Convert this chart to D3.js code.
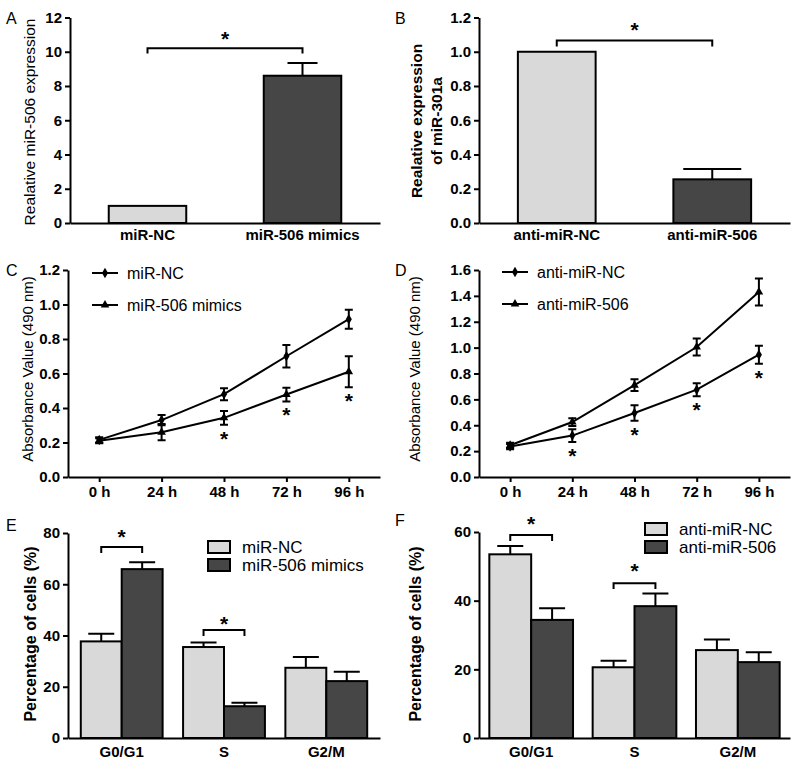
<!DOCTYPE html>
<html><head><meta charset="utf-8">
<script src="https://cdn.jsdelivr.net/npm/d3@7"></script>
<style>
html,body{margin:0;padding:0;background:#fff;}
svg{display:block;font-family:"Liberation Sans",Arial,sans-serif;}
</style></head>
<body>
<svg id="chart" width="800" height="769"></svg>
<script>
// ---------------- DATA ----------------
const catsA = ["miR-NC", "miR-506 mimics"];
const valsA = [1.0, 8.6];
const errsA = [0, 0.75];
const ticksA = [0, 2, 4, 6, 8, 10, 12];

const catsB = ["anti-miR-NC", "anti-miR-506"];
const valsB = [1.0, 0.255];
const errsB = [0, 0.06];
const ticksB = [0, 0.2, 0.4, 0.6, 0.8, 1.0, 1.2];

const timeLabels = ["0 h", "24 h", "48 h", "72 h", "96 h"];
const seriesC = ["miR-NC", "miR-506 mimics"];
const valsC_nc = [0.215, 0.33, 0.48, 0.70, 0.915];
const errsC_nc = [0.015, 0.03, 0.035, 0.065, 0.055];
const valsC_mim = [0.21, 0.26, 0.343, 0.478, 0.61];
const errsC_mim = [0.015, 0.047, 0.04, 0.04, 0.09];
const starsC = [2, 3, 4];
const ticksC = [0, 0.2, 0.4, 0.6, 0.8, 1.0, 1.2];

const seriesD = ["anti-miR-NC", "anti-miR-506"];
const valsD_nc = [0.235, 0.32, 0.495, 0.675, 0.945];
const errsD_nc = [0.02, 0.05, 0.06, 0.05, 0.07];
const valsD_506 = [0.245, 0.425, 0.71, 1.005, 1.43];
const errsD_506 = [0.02, 0.03, 0.045, 0.065, 0.105];
const starsD = [1, 2, 3, 4];
const ticksD = [0, 0.2, 0.4, 0.6, 0.8, 1.0, 1.2, 1.4, 1.6];

const phases = ["G0/G1", "S", "G2/M"];
const seriesE = ["miR-NC", "miR-506 mimics"];
const valsE_nc = [37.7, 35.5, 27.4];
const errsE_nc = [3.0, 1.8, 4.2];
const valsE_mim = [65.9, 12.4, 22.2];
const errsE_mim = [2.7, 1.4, 3.7];
const ticksE = [0, 20, 40, 60, 80];

const seriesF = ["anti-miR-NC", "anti-miR-506"];
const valsF_nc = [53.5, 20.6, 25.6];
const errsF_nc = [2.4, 1.9, 3.1];
const valsF_506 = [34.4, 38.4, 22.1];
const errsF_506 = [3.4, 3.7, 2.9];
const ticksF = [0, 20, 40, 60];

// significance brackets in data units: [level, tickEnd, starLevel]
const sigA = [10.2, 9.9, 11.0];
const sigB = [1.065, 1.03, 1.15];
const sigE = [{g: 0, lv: 74.5, end: 72.2, star: 80}, {g: 1, lv: 42.1, end: 39.8, star: 46}];
const sigF = [{g: 0, lv: 59.1, end: 57.4, star: 63.5}, {g: 1, lv: 45.1, end: 43.4, star: 49.8}];

// ---------------- STYLE ----------------
const LIGHT = "#d9d9d9", DARK = "#464646";
const FONT = '"Liberation Sans", Arial, sans-serif';
const svg = d3.select("#chart");
svg.append("rect").attr("width", 800).attr("height", 769).attr("fill", "#fff");

function styleAxis(g) {
  g.selectAll("path.domain").attr("stroke", "#000").attr("stroke-width", 2);
  g.selectAll(".tick line").attr("stroke", "#000").attr("stroke-width", 2);
  g.selectAll("text").attr("font-family", FONT).attr("font-size", 15)
    .attr("font-weight", "bold").attr("fill", "#000");
}
function yAxis(y, x0, ticks, fmt) {
  const g = svg.append("g").attr("transform", `translate(${x0},0)`)
    .call(d3.axisLeft(y).tickValues(ticks).tickFormat(fmt).tickSize(5).tickSizeOuter(0).tickPadding(3));
  styleAxis(g);
}
function xAxis(x, y0, tickSize, pad) {
  const g = svg.append("g").attr("transform", `translate(0,${y0})`)
    .call(d3.axisBottom(x).tickSize(tickSize).tickSizeOuter(0).tickPadding(pad));
  styleAxis(g);
  if (tickSize === 0) g.selectAll(".tick line").remove();
}
function yTitle(lines, x, cy, bold, size) {
  const t = svg.append("text").attr("transform", `translate(${x},${cy}) rotate(-90)`)
    .attr("text-anchor", "middle").attr("font-family", FONT).attr("font-size", size)
    .attr("font-weight", bold ? "bold" : "normal").attr("fill", "#000");
  lines.forEach((l, i) => {
    t.append("tspan").attr("x", 0).attr("y", (i - (lines.length - 1) / 2) * 20).attr("dy", "0.35em").text(l);
  });
}
function panelLabel(s, x, y) {
  svg.append("text").attr("x", x).attr("y", y).attr("dy", "0.35em").attr("font-family", FONT)
    .attr("font-size", 16).attr("fill", "#000").text(s);
}
function star(x, yc) {
  svg.append("text").attr("x", x).attr("y", yc + 11).attr("text-anchor", "middle")
    .attr("font-family", FONT).attr("font-size", 21).attr("font-weight", "bold").attr("fill", "#000").text("*");
}
function bracket(x1, x2, ylv, yend) {
  svg.append("path").attr("d", `M${x1},${yend}V${ylv}H${x2}V${yend}`)
    .attr("fill", "none").attr("stroke", "#000").attr("stroke-width", 2);
}
function bar(x, w, y, v, e, fill, capHalf) {
  const cx = x + w / 2;
  if (e > 0) {
    svg.append("path").attr("d", `M${cx},${y(v)}V${y(v + e)}M${cx - capHalf},${y(v + e)}H${cx + capHalf}`)
      .attr("stroke", "#000").attr("stroke-width", 2).attr("fill", "none");
  }
  svg.append("rect").attr("x", x).attr("y", y(v)).attr("width", w).attr("height", y(0) - y(v))
    .attr("fill", fill).attr("stroke", "#000").attr("stroke-width", 2);
}

// ---------------- PANEL A ----------------
{
  const y = d3.scaleLinear().domain([0, 12]).range([223, 17.5]);
  const x = d3.scaleBand().domain(catsA).range([70, 380]).paddingInner(0.5).paddingOuter(0.25);
  catsA.forEach((c, i) => bar(x(c), x.bandwidth(), y, valsA[i], errsA[i], i === 0 ? LIGHT : DARK, 15));
  yAxis(y, 70, ticksA, d3.format("d"));
  xAxis(x, 223, 0, 6);
  yTitle(["Realative miR-506 expression"], 30, 122, false, 15.5);
  const c0 = x(catsA[0]) + x.bandwidth() / 2, c1 = x(catsA[1]) + x.bandwidth() / 2;
  bracket(c0, c1, y(sigA[0]), y(sigA[1]));
  star((c0 + c1) / 2, y(sigA[2]));
  panelLabel("A", 6, 18);
}
// ---------------- PANEL B ----------------
{
  const y = d3.scaleLinear().domain([0, 1.2]).range([223, 17.5]);
  const x = d3.scaleBand().domain(catsB).range([479, 790]).paddingInner(0.5).paddingOuter(0.25);
  catsB.forEach((c, i) => bar(x(c), x.bandwidth(), y, valsB[i], errsB[i], i === 0 ? LIGHT : DARK, 29));
  yAxis(y, 479, ticksB, d3.format(".1f"));
  xAxis(x, 223, 0, 6);
  yTitle(["Realative expression", "of miR-301a"], 427, 121, true, 15.5);
  const c0 = x(catsB[0]) + x.bandwidth() / 2, c1 = x(catsB[1]) + x.bandwidth() / 2;
  bracket(c0, c1, y(sigB[0]), y(sigB[1]));
  star((c0 + c1) / 2, y(sigB[2]));
  panelLabel("B", 395, 18);
}
// ---------------- LINE PANELS ----------------
function linePanel(x0, x1, ymax, ticks, series, vals, errs, starSeries, starIdx, legX, legY, titleX, lbl, lblX) {
  const y = d3.scaleLinear().domain([0, ymax]).range([477, 270]);
  const x = d3.scalePoint().domain(timeLabels).range([x0, x1]).padding(0.5);
  const symbols = [d3.symbolDiamond, d3.symbolTriangle];
  const line = d3.line().x((d, i) => x(timeLabels[i])).y(d => y(d));
  vals.forEach((v, s) => {
    svg.append("path").attr("d", line(v)).attr("fill", "none").attr("stroke", "#000").attr("stroke-width", 2);
    v.forEach((d, i) => {
      const cx = x(timeLabels[i]), e = errs[s][i];
      svg.append("path").attr("d", `M${cx},${y(d - e)}V${y(d + e)}M${cx - 4},${y(d - e)}H${cx + 4}M${cx - 4},${y(d + e)}H${cx + 4}`)
        .attr("stroke", "#000").attr("stroke-width", 2).attr("fill", "none");
      svg.append("path").attr("d", d3.symbol(symbols[s], 32)()).attr("transform", `translate(${cx},${y(d)})`).attr("fill", "#000");
    });
  });
  starIdx.forEach(i => {
    const d = vals[starSeries][i], e = errs[starSeries][i];
    star(x(timeLabels[i]), y(d - e) + 10);
  });
  yAxis(y, x0, ticks, d3.format(".1f"));
  xAxis(x, 477, 5, 4);
  series.forEach((s, k) => {
    const ly = legY + k * 32;
    svg.append("path").attr("d", `M${legX},${ly}H${legX + 26}`).attr("stroke", "#000").attr("stroke-width", 2);
    svg.append("path").attr("d", d3.symbol(symbols[k], 32)()).attr("transform", `translate(${legX + 13},${ly})`).attr("fill", "#000");
    svg.append("text").attr("x", legX + 35).attr("y", ly).attr("dy", "0.35em").attr("font-family", FONT)
      .attr("font-size", 16).attr("fill", "#000").text(s);
  });
  yTitle(["Absorbance Value (490 nm)"], titleX, 369, false, 15);
  panelLabel(lbl, lblX, 270);
}
linePanel(68, 380, 1.2, ticksC, seriesC, [valsC_nc, valsC_mim], [errsC_nc, errsC_mim], 1, starsC, 92, 273, 28, "C", 6);
linePanel(479, 790, 1.6, ticksD, seriesD, [valsD_nc, valsD_506], [errsD_nc, errsD_506], 0, starsD, 502, 272, 415, "D", 395);

// ---------------- GROUPED BAR PANELS ----------------
function groupPanel(x0, x1, ymax, ytop, ticks, series, vals, errs, sigs, legX, legY, titleX, lbl, lblX, lblY, padIn, padOut) {
  const y = d3.scaleLinear().domain([0, ymax]).range([738, ytop]);
  const x = d3.scaleBand().domain(phases).range([x0, x1]).paddingInner(padIn).paddingOuter(padOut);
  const xs = d3.scaleBand().domain(series).range([0, x.bandwidth()]);
  const fills = [LIGHT, DARK];
  phases.forEach((p, i) => {
    series.forEach((s, k) => bar(x(p) + xs(s), xs.bandwidth(), y, vals[k][i], errs[k][i], fills[k], 13));
  });
  yAxis(y, x0, ticks, d3.format("d"));
  xAxis(x, 738, 0, 8);
  sigs.forEach(sg => {
    const p = phases[sg.g];
    const c0 = x(p) + xs(series[0]) + xs.bandwidth() / 2, c1 = x(p) + xs(series[1]) + xs.bandwidth() / 2;
    bracket(c0, c1, y(sg.lv), y(sg.end));
    star((c0 + c1) / 2, y(sg.star));
  });
  series.forEach((s, k) => {
    const ly = legY + k * 18;
    svg.append("rect").attr("x", legX).attr("y", ly - 6).attr("width", 22).attr("height", 12)
      .attr("fill", fills[k]).attr("stroke", "#000").attr("stroke-width", 2);
    svg.append("text").attr("x", legX + 34).attr("y", ly).attr("dy", "0.35em").attr("font-family", FONT)
      .attr("font-size", 17).attr("fill", "#000").text(s);
  });
  yTitle(["Percentage of cells (%)"], titleX, 634, true, 16);
  panelLabel(lbl, lblX, lblY);
}
groupPanel(68, 380, 80, 533, ticksE, seriesE, [valsE_nc, valsE_mim], [errsE_nc, errsE_mim], sigE, 208, 547, 30, "E", 6, 525, 0.2, 0.125);
groupPanel(479, 790, 60, 532, ticksF, seriesF, [valsF_nc, valsF_506], [errsF_nc, errsF_506], sigF, 645, 529, 415, "F", 395, 520, 0.19, 0.1);
</script>
</body></html>
